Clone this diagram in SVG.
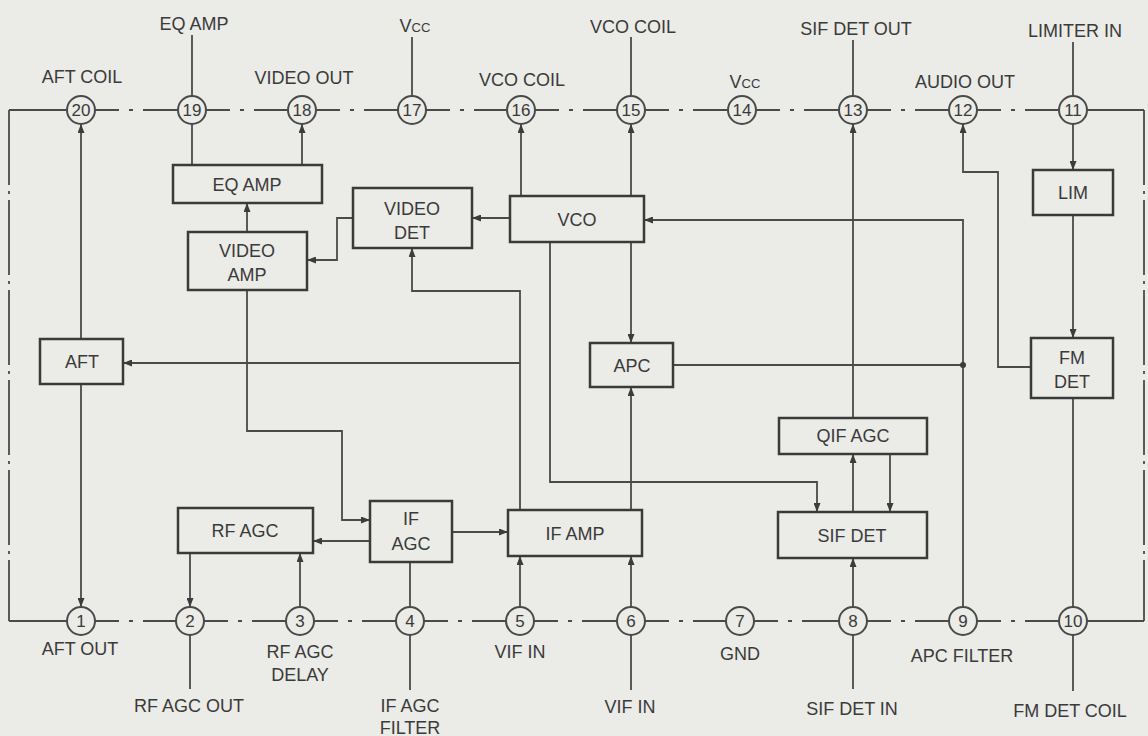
<svg xmlns="http://www.w3.org/2000/svg" width="1148" height="736" viewBox="0 0 1148 736">
<defs>
<marker id="ah" markerWidth="9" markerHeight="7" refX="9" refY="3.5" orient="auto" markerUnits="userSpaceOnUse">
<path d="M0,0 L9,3.5 L0,7 z" fill="#3c3c3c"/>
</marker>
<style>
.bg{fill:#ebebe7}
.box{fill:none;stroke:#3a3a3a;stroke-width:2.5}
.pin{fill:#ebebe7;stroke:#4a4a4a;stroke-width:2}
.w{fill:none;stroke:#4a4a4a;stroke-width:1.8}
.a{fill:none;stroke:#4a4a4a;stroke-width:1.8;marker-end:url(#ah)}
.dd{fill:none;stroke:#4a4a4a;stroke-width:1.8;stroke-dasharray:24 10 4 10 200 0}
.ddv{fill:none;stroke:#4a4a4a;stroke-width:1.8;stroke-dasharray:75 6 3 6}
text{font-family:"Liberation Sans",Arial,sans-serif;font-size:18px;fill:#3a3a3a;text-anchor:middle}
.pn{font-size:17px}
</style>
</defs>
<rect class="bg" x="0" y="0" width="1148" height="736"/>

<g id="connectors">
<!-- frame -->
<path class="w" d="M67,110 H9"/>
<path class="ddv" d="M9,110 V621"/>
<path class="w" d="M9,621 H67"/>
<path class="w" d="M1087,110 H1144"/>
<path class="ddv" d="M1144,110 V621"/>
<path class="w" d="M1144,621 H1087"/>
<line class="dd" x1="95" y1="110" x2="178" y2="110"/>
<line class="dd" x1="206" y1="110" x2="288" y2="110"/>
<line class="dd" x1="316" y1="110" x2="398" y2="110"/>
<line class="dd" x1="426" y1="110" x2="507" y2="110"/>
<line class="dd" x1="535" y1="110" x2="617" y2="110"/>
<line class="dd" x1="645" y1="110" x2="728" y2="110"/>
<line class="dd" x1="756" y1="110" x2="839" y2="110"/>
<line class="dd" x1="867" y1="110" x2="949" y2="110"/>
<line class="dd" x1="977" y1="110" x2="1059" y2="110"/>
<line class="dd" x1="95" y1="621" x2="176" y2="621"/>
<line class="dd" x1="204" y1="621" x2="286" y2="621"/>
<line class="dd" x1="314" y1="621" x2="396" y2="621"/>
<line class="dd" x1="424" y1="621" x2="506" y2="621"/>
<line class="dd" x1="534" y1="621" x2="617" y2="621"/>
<line class="dd" x1="645" y1="621" x2="726" y2="621"/>
<line class="dd" x1="754" y1="621" x2="839" y2="621"/>
<line class="dd" x1="867" y1="621" x2="949" y2="621"/>
<line class="dd" x1="977" y1="621" x2="1059" y2="621"/>

<!-- top label leads -->
<line class="w" x1="192" y1="35" x2="192" y2="96"/>
<line class="w" x1="412" y1="37" x2="412" y2="96"/>
<line class="w" x1="631" y1="37" x2="631" y2="96"/>
<line class="w" x1="853" y1="40" x2="853" y2="96"/>
<line class="w" x1="1073" y1="42" x2="1073" y2="96"/>
<!-- bottom label leads -->
<line class="w" x1="190" y1="635" x2="190" y2="689"/>
<line class="w" x1="410" y1="635" x2="410" y2="690"/>
<line class="w" x1="631" y1="635" x2="631" y2="690"/>
<line class="w" x1="853" y1="635" x2="853" y2="689"/>
<line class="w" x1="1073" y1="635" x2="1073" y2="691"/>

<!-- AFT to pins 20 and 1 -->
<line class="a" x1="81" y1="339" x2="81" y2="124"/>
<line class="a" x1="81" y1="384" x2="81" y2="607"/>
<!-- pin 19 to EQ AMP -->
<line class="w" x1="192" y1="124" x2="192" y2="165"/>
<!-- EQ AMP to pin 18 -->
<line class="a" x1="302" y1="165" x2="302" y2="124"/>
<!-- VIDEO AMP to EQ AMP -->
<line class="a" x1="247" y1="232" x2="247" y2="203"/>
<!-- VIDEO DET to VIDEO AMP -->
<path class="a" d="M353,218 H337 V260 H307"/>
<!-- VCO to VIDEO DET -->
<line class="a" x1="510" y1="218" x2="472" y2="218"/>
<!-- VCO to pins 16, 15 -->
<line class="a" x1="521" y1="196" x2="521" y2="124"/>
<line class="a" x1="631" y1="196" x2="631" y2="124"/>
<!-- VCO to APC -->
<line class="a" x1="631" y1="242" x2="631" y2="343"/>
<!-- IF AMP to APC -->
<line class="a" x1="631" y1="510" x2="631" y2="387"/>
<!-- IF AMP to VIDEO DET and AFT -->
<path class="a" d="M520,510 V291 H412 V248"/>
<path class="a" d="M520,363 H123"/>
<!-- VCO to SIF DET -->
<path class="a" d="M550,242 V482 H817 V512"/>
<!-- APC to junction, VCO, pin 9 -->
<path class="w" d="M673,365 H963"/>
<path class="a" d="M963,365 V220 H644"/>
<line class="w" x1="963" y1="365" x2="963" y2="607"/>
<circle cx="963" cy="365" r="3" fill="#3c3c3c"/>
<!-- SIF DET / QIF AGC -->
<line class="a" x1="853" y1="512" x2="853" y2="454"/>
<line class="a" x1="890" y1="454" x2="890" y2="512"/>
<line class="a" x1="853" y1="418" x2="853" y2="124"/>
<!-- FM DET to pin 12 -->
<path class="a" d="M1031,367 H998 V172 H963 V124"/>
<!-- pin 11 to LIM, LIM to FM DET -->
<line class="a" x1="1073" y1="124" x2="1073" y2="170"/>
<line class="a" x1="1073" y1="215" x2="1073" y2="338"/>
<!-- FM DET to pin 10 -->
<line class="w" x1="1073" y1="398" x2="1073" y2="607"/>
<!-- VIDEO AMP to IF AGC -->
<path class="a" d="M247,290 V431 H342 V520 H370"/>
<!-- IF AGC to RF AGC, IF AMP -->
<line class="a" x1="370" y1="541" x2="313" y2="541"/>
<line class="a" x1="452" y1="532" x2="508" y2="532"/>
<!-- RF AGC to pin 2, pin 3 to RF AGC -->
<line class="a" x1="190" y1="553" x2="190" y2="607"/>
<line class="a" x1="300" y1="607" x2="300" y2="553"/>
<!-- IF AGC to pin 4 -->
<line class="w" x1="410" y1="562" x2="410" y2="607"/>
<!-- pins 5, 6 to IF AMP -->
<line class="a" x1="520" y1="607" x2="520" y2="556"/>
<line class="a" x1="631" y1="607" x2="631" y2="556"/>
<!-- pin 8 to SIF DET -->
<line class="a" x1="853" y1="607" x2="853" y2="558"/>
</g>

<!-- pins -->
<g id="pin20"><circle class="pin" cx="81" cy="110" r="14"/><text class="pn" x="81" y="116">20</text><text x="82" y="83">AFT COIL</text></g>
<g id="pin19"><circle class="pin" cx="192" cy="110" r="14"/><text class="pn" x="192" y="116">19</text><text x="194" y="30">EQ AMP</text></g>
<g id="pin18"><circle class="pin" cx="302" cy="110" r="14"/><text class="pn" x="302" y="116">18</text><text x="304" y="84">VIDEO OUT</text></g>
<g id="pin17"><circle class="pin" cx="412" cy="110" r="14"/><text class="pn" x="412" y="116">17</text><text x="415" y="32" font-variant="small-caps">Vcc</text></g>
<g id="pin16"><circle class="pin" cx="521" cy="110" r="14"/><text class="pn" x="521" y="116">16</text><text x="522" y="86">VCO COIL</text></g>
<g id="pin15"><circle class="pin" cx="631" cy="110" r="14"/><text class="pn" x="631" y="116">15</text><text x="633" y="33">VCO COIL</text></g>
<g id="pin14"><circle class="pin" cx="742" cy="110" r="14"/><text class="pn" x="742" y="116">14</text><text x="745" y="88" font-variant="small-caps">Vcc</text></g>
<g id="pin13"><circle class="pin" cx="853" cy="110" r="14"/><text class="pn" x="853" y="116">13</text><text x="856" y="35">SIF DET OUT</text></g>
<g id="pin12"><circle class="pin" cx="963" cy="110" r="14"/><text class="pn" x="963" y="116">12</text><text x="965" y="88">AUDIO OUT</text></g>
<g id="pin11"><circle class="pin" cx="1073" cy="110" r="14"/><text class="pn" x="1073" y="116">11</text><text x="1075" y="37">LIMITER IN</text></g>

<g id="pin1"><circle class="pin" cx="81" cy="621" r="14"/><text class="pn" x="81" y="627">1</text><text x="80" y="655">AFT OUT</text></g>
<g id="pin2"><circle class="pin" cx="190" cy="621" r="14"/><text class="pn" x="190" y="627">2</text><text x="189" y="712">RF AGC OUT</text></g>
<g id="pin3"><circle class="pin" cx="300" cy="621" r="14"/><text class="pn" x="300" y="627">3</text><text x="300" y="658">RF AGC</text><text x="300" y="681">DELAY</text></g>
<g id="pin4"><circle class="pin" cx="410" cy="621" r="14"/><text class="pn" x="410" y="627">4</text><text x="410" y="712">IF AGC</text><text x="410" y="734">FILTER</text></g>
<g id="pin5"><circle class="pin" cx="520" cy="621" r="14"/><text class="pn" x="520" y="627">5</text><text x="520" y="658">VIF IN</text></g>
<g id="pin6"><circle class="pin" cx="631" cy="621" r="14"/><text class="pn" x="631" y="627">6</text><text x="630" y="713">VIF IN</text></g>
<g id="pin7"><circle class="pin" cx="740" cy="621" r="14"/><text class="pn" x="740" y="627">7</text><text x="740" y="660">GND</text></g>
<g id="pin8"><circle class="pin" cx="853" cy="621" r="14"/><text class="pn" x="853" y="627">8</text><text x="852" y="715">SIF DET IN</text></g>
<g id="pin9"><circle class="pin" cx="963" cy="621" r="14"/><text class="pn" x="963" y="627">9</text><text x="962" y="662">APC FILTER</text></g>
<g id="pin10"><circle class="pin" cx="1073" cy="621" r="14"/><text class="pn" x="1073" y="627">10</text><text x="1070" y="717">FM DET COIL</text></g>

<!-- blocks -->
<g id="eqamp"><rect class="box" x="173" y="165" width="149" height="38"/><text x="247" y="191">EQ AMP</text></g>
<g id="videodet"><rect class="box" x="353" y="188" width="119" height="60"/><text x="412" y="215">VIDEO</text><text x="412" y="239">DET</text></g>
<g id="videoamp"><rect class="box" x="188" y="232" width="119" height="58"/><text x="247" y="257">VIDEO</text><text x="247" y="281">AMP</text></g>
<g id="vco"><rect class="box" x="510" y="196" width="134" height="46"/><text x="577" y="226">VCO</text></g>
<g id="apc"><rect class="box" x="590" y="343" width="83" height="44"/><text x="632" y="372">APC</text></g>
<g id="aft"><rect class="box" x="40" y="339" width="83" height="45"/><text x="82" y="368">AFT</text></g>
<g id="lim"><rect class="box" x="1033" y="170" width="80" height="45"/><text x="1073" y="199">LIM</text></g>
<g id="fmdet"><rect class="box" x="1031" y="338" width="82" height="60"/><text x="1072" y="364">FM</text><text x="1072" y="388">DET</text></g>
<g id="qifagc"><rect class="box" x="779" y="418" width="148" height="36"/><text x="853" y="442">QIF AGC</text></g>
<g id="sifdet"><rect class="box" x="778" y="512" width="149" height="46"/><text x="852" y="542">SIF DET</text></g>
<g id="ifamp"><rect class="box" x="508" y="510" width="134" height="46"/><text x="575" y="540">IF AMP</text></g>
<g id="ifagc"><rect class="box" x="370" y="501" width="82" height="61"/><text x="411" y="525">IF</text><text x="411" y="550">AGC</text></g>
<g id="rfagc"><rect class="box" x="178" y="508" width="135" height="45"/><text x="245" y="537">RF AGC</text></g>
</svg>
